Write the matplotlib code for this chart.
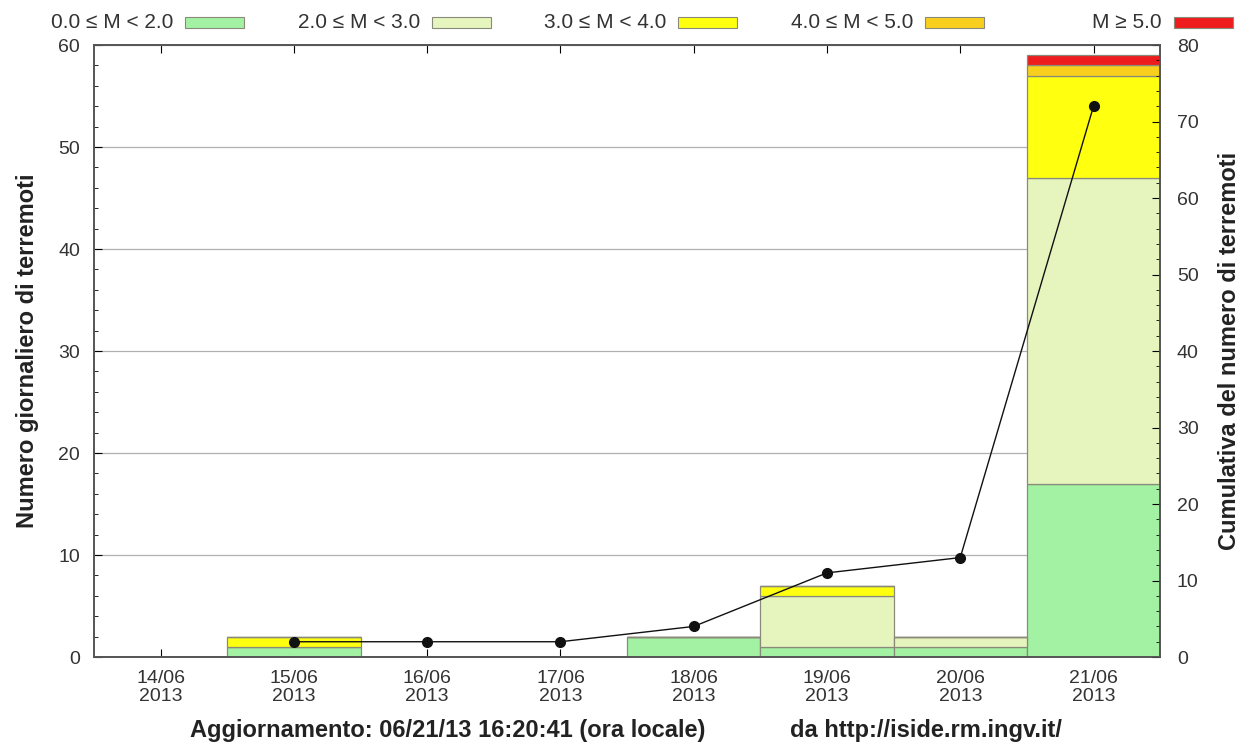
import numpy as np
import matplotlib
matplotlib.use("Agg")
from matplotlib import pyplot as plt
from matplotlib.patches import Rectangle
from matplotlib.ticker import MultipleLocator

plt.rcParams['font.family'] = ['Liberation Sans Narrow', 'Liberation Sans', 'DejaVu Sans']

# Daily counts per magnitude class.
days = ["14/06\n2013", "15/06\n2013", "16/06\n2013", "17/06\n2013",
        "18/06\n2013", "19/06\n2013", "20/06\n2013", "21/06\n2013"]
m0_2 = [0, 1, 0, 0, 2, 1, 1, 17]
m2_3 = [0, 0, 0, 0, 0, 5, 1, 30]
m3_4 = [0, 1, 0, 0, 0, 1, 0, 10]
m4_5 = [0, 0, 0, 0, 0, 0, 0, 1]
m5 = [0, 0, 0, 0, 0, 0, 0, 1]

# Cumulative count (right axis), starting at 15/06.
cum_days = [1, 2, 3, 4, 5, 6, 7]
cumulative = [2, 2, 2, 4, 11, 13, 72]

labels = ["0.0 \u2264 M < 2.0", "2.0 \u2264 M < 3.0", "3.0 \u2264 M < 4.0",
          "4.0 \u2264 M < 5.0", "M \u2265 5.0"]
colors = ["#a3f2a3", "#e6f5be", "#ffff10", "#f9cf1e", "#ee1c1c"]
series = [m0_2, m2_3, m3_4, m4_5, m5]

fig = plt.figure(figsize=(12.44, 7.43), dpi=100)
ax = fig.add_axes([0.0756, 0.1157, 0.857, 0.8237])
x = np.arange(len(days))

bottom = np.zeros(len(days))
for vals, col in zip(series, colors):
	vals = np.asarray(vals, dtype=float)
	ax.bar(x, vals, width=1.0, bottom=bottom, color=col,
		edgecolor="#8a8a7a", linewidth=0.9, zorder=2)
	bottom += vals

ax.set_xlim(-0.5, 7.5)
ax.set_ylim(0, 60)
ax.yaxis.set_major_locator(MultipleLocator(10))
ax.yaxis.set_minor_locator(MultipleLocator(2))
ax.grid(axis='y', which='major', color="#b0b0b0", linewidth=0.9, zorder=0)
ax.set_xticks(x)
ax.set_xticklabels(days, fontsize=14, color="#333333", linespacing=1.15)
ax.tick_params(axis='x', direction='in', length=6, top=True, pad=9)
ax.tick_params(axis='y', which='major', direction='in', length=6,
	labelsize=14, labelcolor="#333333", pad=10)
ax.tick_params(axis='y', which='minor', direction='in', length=3)
ax.set_ylabel("Numero giornaliero di terremoti", fontsize=17,
	fontweight='bold', color="#222222", labelpad=14)
for s in ax.spines.values():
	s.set_color("#555555")
	s.set_linewidth(1.2)

ax2 = ax.twinx()
ax2.set_ylim(0, 80)
ax2.yaxis.set_major_locator(MultipleLocator(10))
ax2.yaxis.set_minor_locator(MultipleLocator(2))
ax2.tick_params(axis='y', which='major', direction='in', length=6,
	labelsize=14, labelcolor="#333333", pad=12)
ax2.tick_params(axis='y', which='minor', direction='in', length=3)
ax2.plot(cum_days, cumulative, color="#111111", linewidth=1.0,
	marker='o', markersize=7, zorder=5)
ax2.set_ylabel("Cumulativa del numero di terremoti", fontsize=17,
	fontweight='bold', color="#222222", labelpad=14)
for s in ax2.spines.values():
	s.set_color("#555555")
	s.set_linewidth(1.2)

# Legend row across the top: label text followed by a colour swatch.
box_x = [185, 432, 678, 925, 1174]
W, H = 1244.0, 743.0
for lab, col, bx in zip(labels, colors, box_x):
	fig.text((bx - 12) / W, 1 - 23 / H, lab, fontsize=15, color="#333333",
		va='center', ha='right')
	fig.patches.append(Rectangle((bx / W, 1 - 28 / H), 59 / W, 11 / H,
		transform=fig.transFigure, facecolor=col, edgecolor="#8a8a7a",
		linewidth=0.8))

fig.text(190 / W, 1 - 731 / H, "Aggiornamento: 06/21/13 16:20:41 (ora locale)",
	fontsize=17, fontweight='bold', color="#222222", va='center', ha='left')
fig.text(790 / W, 1 - 731 / H, "da http://iside.rm.ingv.it/",
	fontsize=17, fontweight='bold', color="#222222", va='center', ha='left')

fig.savefig("out.png", dpi=100)
